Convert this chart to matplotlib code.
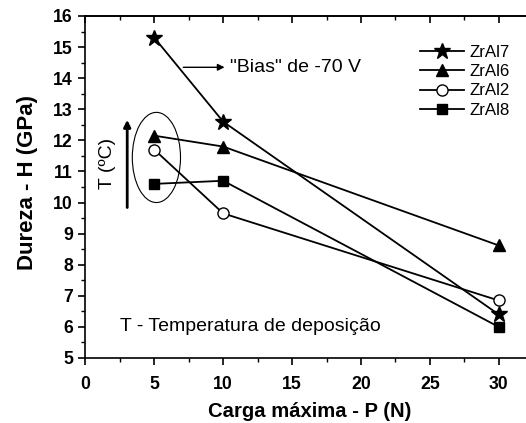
import matplotlib
matplotlib.use('Agg')
import matplotlib.pyplot as plt
from matplotlib.patches import Ellipse

plt.rcParams['font.family'] = ['Liberation Sans', 'DejaVu Sans']

# Data
carga = [5, 10, 30]
zral7 = [15.3, 12.6, 6.4]
zral6 = [12.15, 11.8, 8.62]
zral2 = [11.7, 9.65, 6.85]
zral8 = [10.6, 10.7, 6.0]

series_names = ['ZrAl7', 'ZrAl6', 'ZrAl2', 'ZrAl8']
xticks = [0, 5, 10, 15, 20, 25, 30]
yticks = [5, 6, 7, 8, 9, 10, 11, 12, 13, 14, 15, 16]

fig = plt.figure(figsize=(5.26, 4.23), dpi=100, facecolor='white')
ax = fig.add_axes([0.1625, 0.1537, 0.851, 0.8085])

ax.plot(carga, zral7, color='black', lw=1.3, marker='*', ms=12, mfc='black', mec='black', label=series_names[0])
ax.plot(carga, zral6, color='black', lw=1.3, marker='^', ms=9, mfc='black', mec='black', label=series_names[1])
ax.plot(carga, zral2, color='black', lw=1.3, marker='o', ms=8, mfc='white', mec='black', mew=1.0, label=series_names[2])
ax.plot(carga, zral8, color='black', lw=1.3, marker='s', ms=7.5, mfc='black', mec='black', label=series_names[3])

ax.set_xlim(0, 32.5)
ax.set_ylim(5, 16)
ax.set_xticks(xticks)
ax.set_yticks(yticks)
ax.set_xticks([2.5, 7.5, 12.5, 17.5, 22.5, 27.5], minor=True)
ax.set_yticks([5.5 + i for i in range(11)], minor=True)

ax.spines['right'].set_visible(False)
for s in ['left', 'bottom', 'top']:
    ax.spines[s].set_linewidth(1.2)

ax.tick_params(axis='x', which='both', direction='out', top=False)
ax.tick_params(axis='y', which='both', direction='out', right=False)
ax.tick_params(which='major', length=5, width=1.2, labelsize=12.7)
ax.tick_params(which='minor', length=3, width=1.0)
ax.tick_params(axis='x', which='major', pad=8)
ax.tick_params(axis='y', which='major', pad=4)
for lab in ax.get_xticklabels() + ax.get_yticklabels():
    lab.set_fontweight('bold')

# inward ticks on the top spine
sec = ax.secondary_xaxis('top')
sec.set_xticks(xticks)
sec.set_xticks([2.5, 7.5, 12.5, 17.5, 22.5, 27.5], minor=True)
sec.tick_params(which='both', direction='in', labeltop=False)
sec.tick_params(which='major', length=5, width=1.2)
sec.tick_params(which='minor', length=3, width=1.0)
sec.spines['top'].set_linewidth(1.2)

ax.set_xlabel('Carga máxima - P (N)', fontsize=14.6, fontweight='bold')
ax.set_ylabel('Dureza - H (GPa)', fontsize=16, fontweight='bold')
ax.xaxis.set_label_coords(0.502, -0.128)
ax.yaxis.set_label_coords(-0.106, 0.512)

# annotations
ax.annotate('', xy=(10.3, 14.35), xytext=(6.9, 14.35),
            arrowprops=dict(arrowstyle='-|>', color='black', lw=1.0, mutation_scale=10))
ax.text(10.5, 14.35, '"Bias" de -70 V', fontsize=14, va='center', ha='left')

ax.add_patch(Ellipse((5.15, 11.45), 3.5, 2.9, fill=False, ec='black', lw=0.8))
ax.annotate('', xy=(3.03, 12.75), xytext=(3.03, 9.75),
            arrowprops=dict(arrowstyle='-|>', color='black', lw=2.0, mutation_scale=10))
ax.text(1.6, 11.27, 'T (ºC)', fontsize=14, rotation=90, va='center', ha='center')

ax.text(2.5, 6.0, 'T - Temperatura de deposição', fontsize=14, va='center', ha='left')

leg = ax.legend(loc='upper left', bbox_to_anchor=(0.732, 0.935), frameon=False, fontsize=12.2,
                handlelength=2.6, handletextpad=0.3, labelspacing=0.25, borderaxespad=0)

fig.savefig('out.png', dpi=100)
